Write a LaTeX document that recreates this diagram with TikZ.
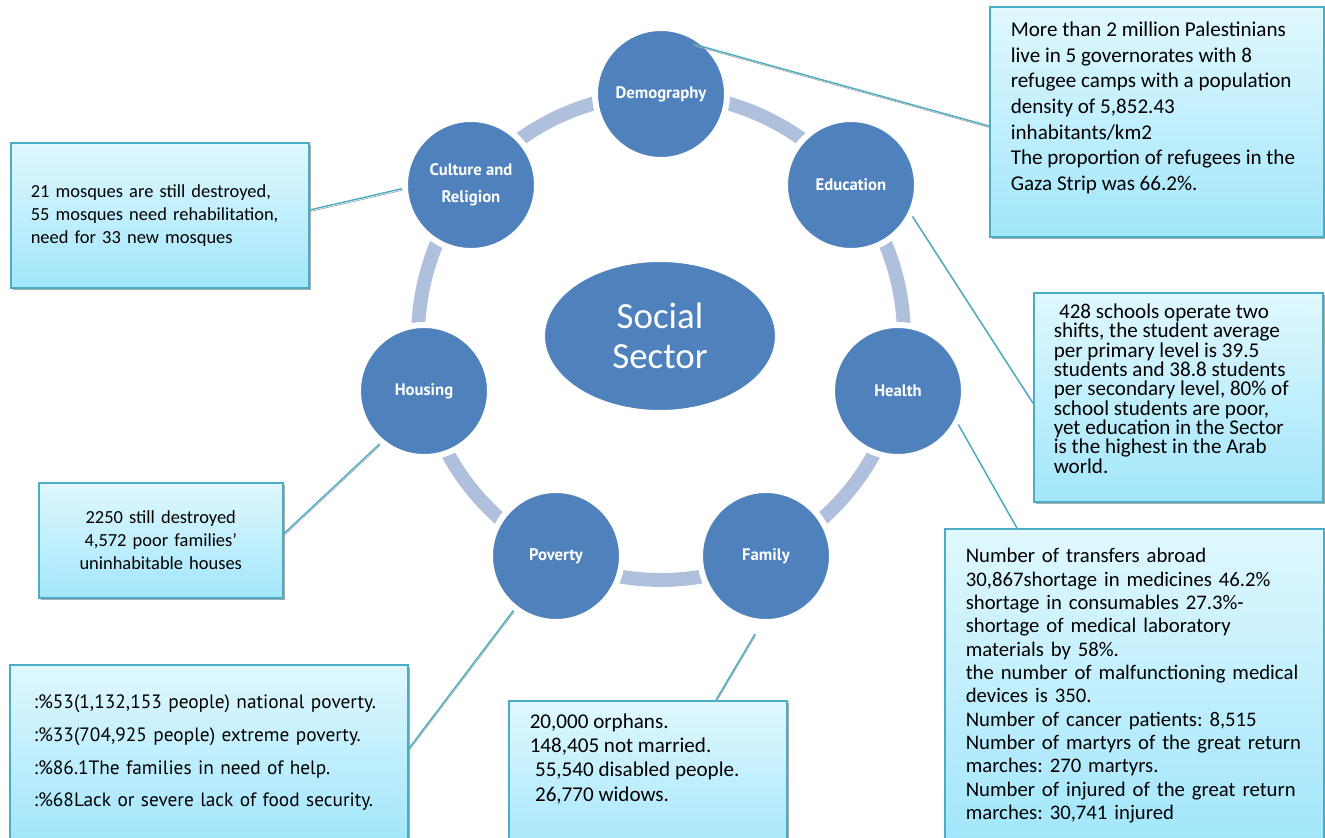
\documentclass[tikz,border=0pt]{standalone}
\usepackage{fontspec}
\setmainfont{Carlito}
\newfontfamily\labelfont{PT Sans}
\usetikzlibrary{shapes.geometric, shadows, calc}
\definecolor{topicblue}{HTML}{4F81BD}
\definecolor{trackblue}{HTML}{AFC0DD}
\definecolor{aqua}{HTML}{4BACC6}
\definecolor{boxtop}{HTML}{E0F8FE}
\definecolor{boxbottom}{HTML}{A2E6FB}
\frenchspacing

\begin{document}
\begin{tikzpicture}[
    x=0.02cm, y=-0.02cm,
    every node/.style={font=\fontsize{12}{14.6}\selectfont},
    topic/.style={
        circle,
        fill=topicblue,
        draw=white,
        line width=3.4pt,
        minimum size=2.64cm,
        text=white,
        align=center,
        font=\labelfont\bfseries\fontsize{9.5}{15.3}\selectfont,
        drop shadow={opacity=0.18, shadow xshift=0.8pt, shadow yshift=-1pt}
    },
    hubnode/.style={
        ellipse,
        fill=topicblue,
        draw=white,
        line width=3.4pt,
        minimum width=4.72cm,
        minimum height=3.08cm,
        text=white,
        align=center,
        font=\fontsize{21}{22.7}\selectfont,
        drop shadow={opacity=0.18, shadow xshift=0.8pt, shadow yshift=-1pt}
    },
    infobox/.style={
        rectangle,
        draw=aqua,
        line width=0.9pt,
        top color=boxtop,
        bottom color=boxbottom,
        anchor=north west,
        align=left,
        drop shadow={fill=black!55, opacity=0.6, shadow xshift=1.4pt, shadow yshift=-1.4pt}
    },
    link/.style={draw=aqua, line width=0.8pt,
        preaction={draw=black!35, transform canvas={xshift=0.3pt, yshift=-0.9pt}}}
]
\useasboundingbox (0,0) rectangle (1325,838);
\clip (0,0) rectangle (1325,838);

% ring behind the topics
\draw[trackblue, line width=7.9pt] (661,337) circle[radius=4.86cm];

\node[hubnode] (social) at (660,336) {Social\\Sector};

\node[topic] (demog) at (661,94) {Demography};
\node[topic] (educ) at (851,185) {Education};
\node[topic] (health) at (898,391) {Health};
\node[topic] (family) at (766,556) {Family};
\node[topic] (poverty) at (556,556) {Poverty};
\node[topic] (housing) at (424,391) {Housing};
\node[topic] (culture) at (471,185) {Culture and\\Religion};

% boxes
\node[infobox, inner xsep=0.42cm, inner ysep=0.3cm] (demobox) at (989,6)
    {\parbox[c][4cm][t]{5.84cm}{\raggedright More than 2 million Palestinians\\
    live in 5 governorates with 8\\
    refugee camps with a population\\
    density of 5,852.43\\
    inhabitants/km2\\
    The proportion of refugees in the\\
    Gaza Strip was 66.2\%.}};

\node[infobox, inner xsep=0.4cm, inner ysep=0pt, text width=5.16cm, minimum height=2.9cm,
    font=\fontsize{10.5}{13}\selectfont] (cultbox) at (10,142)
    {21 mosques are still destroyed,\\
    55 mosques need rehabilitation,\\
    need for 33 new mosques};

\node[infobox, inner xsep=0.4cm, inner ysep=0.22cm, font=\fontsize{12}{11}\selectfont] (edubox) at (1033,292)
    {\parbox[c][3.74cm][t]{4.98cm}{\raggedright\hspace*{0.25em}428 schools operate two\\
    shifts, the student average\\
    per primary level is 39.5\\
    students and 38.8 students\\
    per secondary level, 80\% of\\
    school students are poor,\\
    yet education in the Sector\\
    is the highest in the Arab\\
    world.}};

\node[infobox, inner xsep=0.42cm, inner ysep=0pt, text width=6.74cm, minimum height=6.28cm,
    font=\fontsize{11.8}{13.3}\selectfont] (healthbox) at (944,528)
    {Number of transfers abroad\\
    30,867shortage in medicines 46.2\%\\
    shortage in consumables 27.3\%-\\
    shortage of medical laboratory\\
    materials by 58\%.\\
    the number of malfunctioning medical\\
    devices is 350.\\
    Number of cancer patients: 8,515\\
    Number of martyrs of the great return\\
    marches: 270 martyrs.\\
    Number of injured of the great return\\
    marches: 30,741 injured};

\node[infobox, inner xsep=0.42cm, inner ysep=0.26cm, font=\fontsize{12}{13.8}\selectfont] (fambox) at (508,700)
    {\parbox[c][2.68cm][t]{4.72cm}{\raggedright 20,000 orphans.\\
    148,405 not married.\\
    \hspace*{0.25em}55,540 disabled people.\\
    \hspace*{0.25em}26,770 widows.}};

\node[infobox, inner xsep=0.48cm, inner ysep=0pt, text width=7.0cm, minimum height=3.52cm,
    font=\labelfont\fontsize{11}{18.7}\selectfont] (povbox) at (9,664)
    {:\%53(1,132,153 people) national poverty.\\
    :\%33(704,925 people) extreme poverty.\\
    :\%86.1The families in need of help.\\
    :\%68Lack or severe lack of food security.};

\node[infobox, align=center, inner xsep=0.4cm, inner ysep=0pt, text width=4.08cm, minimum height=2.3cm,
    font=\fontsize{10.5}{13}\selectfont] (housebox) at (38,482)
    {2250 still destroyed\\
    4,572 poor families'\\
    uninhabitable houses};

% connectors
\coordinate (demotip) at ($(demog.center)+(32,-50)$);
\coordinate (famtip) at ($(family.center)+(-11,78)$);
\draw[link] (demotip) -- ($(demobox.north west)+(0,120)$);
\draw[link] (culture.183) -- ($(cultbox.north east)+(0,68)$);
\draw[link] (educ.-27) -- ($(edubox.north west)+(0,111)$);
\draw[link] (health.-29) -- ($(healthbox.north west)+(73,0)$);
\draw[link] (housing.230) -- ($(housebox.north east)+(0,52)$);
\draw[link] (poverty.232) -- ($(povbox.north east)+(0,85)$);
\draw[link] (famtip) -- ($(fambox.north west)+(208,0)$);

\end{tikzpicture}
\end{document}
